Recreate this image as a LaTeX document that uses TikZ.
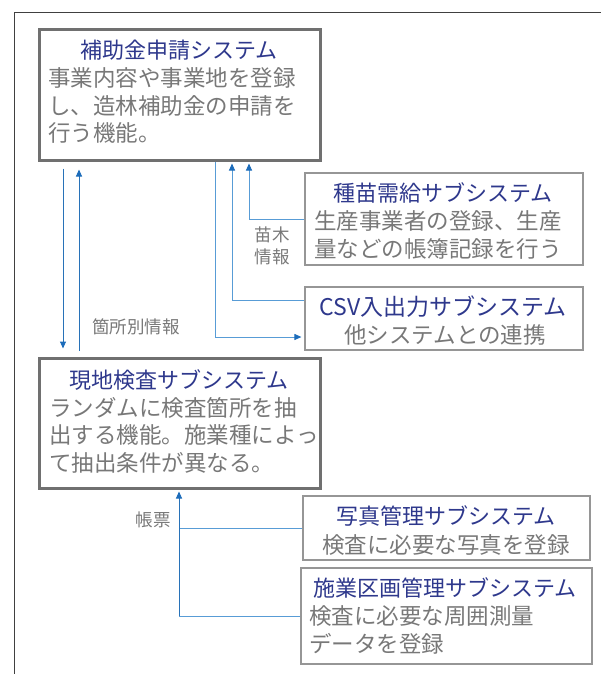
\documentclass[tikz,border=0pt]{standalone}
\usepackage{fontspec}
\setmainfont{Noto Sans CJK JP}
\usetikzlibrary{arrows.meta,calc}
\definecolor{navy}{RGB}{46,56,140}
\definecolor{bodygray}{RGB}{120,120,120}
\definecolor{boxgray}{RGB}{112,112,112}
\definecolor{subgray}{RGB}{150,150,150}
\definecolor{framegray}{RGB}{64,64,64}
\definecolor{darkblue}{RGB}{40,114,184}
\definecolor{lightblue}{RGB}{88,156,214}
\definecolor{tipblue}{RGB}{28,108,186}
\tikzset{
  mainbox/.style={draw=boxgray, line width=3pt, inner sep=0pt},
  subbox/.style={draw=subgray, line width=1.2pt, inner sep=0pt},
  titletext/.style={text=navy, inner sep=0pt, anchor=base, font=\fontsize{22}{28}\selectfont},
  bodytext/.style={text=bodygray, inner sep=0pt, anchor=base west, align=left, font=\fontsize{22.5}{27.5}\selectfont},
  ctrtext/.style={text=bodygray, inner sep=0pt, anchor=base, font=\fontsize{22.5}{27.5}\selectfont},
  labeltext/.style={text=bodygray, inner sep=0pt, align=center, font=\fontsize{17.5}{22}\selectfont},
  tip/.style={-{Triangle[length=7pt,width=6pt,color=tipblue]}},
  darkline/.style={draw=darkblue, line width=1pt},
  lightline/.style={draw=lightblue, line width=1pt},
}
\begin{document}
\begin{tikzpicture}[x=1pt,y=-1pt]
\useasboundingbox (0,0) rectangle (601,674);
% outer frame
\draw[framegray, line width=1.2pt] (14.5,674) -- (14.5,12.5) -- (601,12.5);

% main boxes (body nodes anchored at the baseline of their last line)
\node[mainbox, minimum width=281pt, minimum height=130pt] (b1) at (179.5,95) {};
\node[titletext] (b1t) at (179,58.5) {補助金申請システム};
\node[bodytext] (b1b) at (48,141.5) {事業内容や事業地を登録\\し、造林補助金の申請を\\行う機能。};

\node[mainbox, minimum width=281pt, minimum height=130pt] (b2) at (179.5,423) {};
\node[titletext] (b2t) at (179,388) {現地検査サブシステム};
\node[bodytext] (b2b) at (49,471) {ランダムに検査箇所を抽\\出する機能。施業種によっ\\て抽出条件が異なる。};

% sub boxes
\node[subbox, minimum width=278pt, minimum height=92pt] (s1) at (444,219) {};
\node[titletext] (s1t) at (443,201) {種苗需給サブシステム};
\node[bodytext] (s1b) at (314,257) {生産事業者の登録、生産\\量などの帳簿記録を行う};

\node[subbox, minimum width=278pt, minimum height=63pt] (s2) at (444,318.5) {};
\node[titletext, font=\fontsize{23}{28}\selectfont] (s2t) at (443,315) {CSV入出力サブシステム};
\node[ctrtext] (s2b) at (445,343.5) {他システムとの連携};

\node[subbox, minimum width=287pt, minimum height=64pt] (s3) at (446.5,528) {};
\node[titletext] (s3t) at (446,524.5) {写真管理サブシステム};
\node[ctrtext] (s3b) at (446,553.5) {検査に必要な写真を登録};

\node[subbox, minimum width=291pt, minimum height=96pt] (s4) at (446.5,616) {};
\node[titletext] (s4t) at (445,596.5) {施業区画管理サブシステム};
\node[bodytext] (s4b) at (309,652) {検査に必要な周囲測量\\データを登録};

% labels
\node[labeltext] (l1) at (136,327) {箇所別情報};
\node[labeltext] (l2) at (272,246) {苗木\\情報};
\node[labeltext] (l3) at (153,520) {帳票};

% helper coordinates
\coordinate (xa) at (63,0);
\coordinate (xb) at (79,0);
\coordinate (xc) at (215,0);
\coordinate (xd) at (232,0);
\coordinate (xe) at (249,0);
\coordinate (xf) at (179,0);
\coordinate (yc) at (0,337);
\coordinate (yd) at (0,300);
\coordinate (ye) at (0,219);
\coordinate (yf) at (0,528);
\coordinate (yg) at (0,616);

% connectors between main boxes
\draw[darkline, tip, shorten <=7pt, shorten >=8pt] (b1.south -| xa) -- (b2.north -| xa);
\draw[darkline, tip, shorten <=6pt, shorten >=8pt] (b2.north -| xb) -- (b1.south -| xb);

% connectors to/from upper sub boxes
\draw[lightline, tip, shorten >=3pt] (b1.south -| xc) |- (s2.west |- yc);
\draw[lightline, tip, shorten >=2pt] (s2.west |- yd) -| (b1.south -| xd);
\draw[lightline, tip, shorten >=2pt] (s1.west |- ye) -| (b1.south -| xe);

% connectors from lower sub boxes
\draw[lightline] (s3.west |- yf) -- (xf |- yf);
\draw[lightline] (s4.west |- yg) -- (xf |- yg);
\draw[darkline, tip, shorten >=2pt] (xf |- yg) -- (b2.south -| xf);
\end{tikzpicture}
\end{document}
